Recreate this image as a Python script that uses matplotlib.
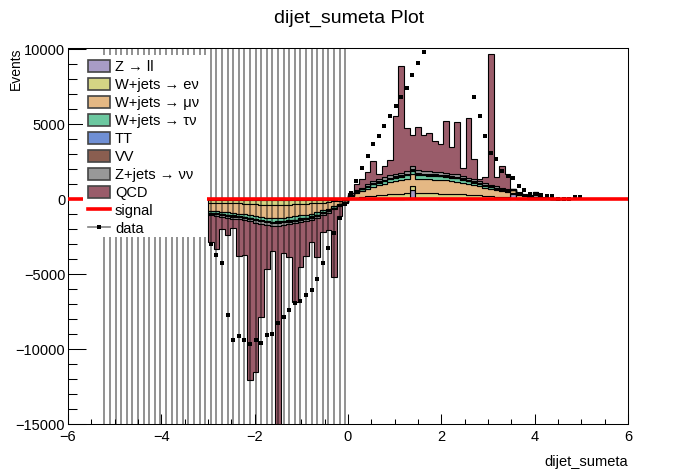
import numpy as np
import matplotlib.pyplot as plt
from matplotlib.patches import Patch, Rectangle
from matplotlib.lines import Line2D
from matplotlib.ticker import MultipleLocator

plt.rcParams['font.family'] = ['Liberation Sans', 'DejaVu Sans']

# 100 bins of 0.12 between -6 and 6
edges = np.linspace(-6, 6, 101)
centers = 0.5 * (edges[:-1] + edges[1:])

# MC histograms cover bins 25..87 (x from -3.0 to 4.56): 25 negative bins then 38 positive bins
mc_first, mc_last = 25, 88

zll = [-30, -30, -30, -40, -40, -40, -40, -40, -50, -50, -50, -50, -50, -50, -50, -50, -50, -40, -40, -40,
       -30, -30, -20, -10, -10,
       10, 20, 20, 30, 40, 40, 40, 50, 50, 50, 60, 600, 60, 60, 60, 60, 50, 50, 50, 50,
       50, 40, 40, 40, 30, 30, 30, 20, 20, 350, 10, 10, 10, 10, 0, 0, 0, 0]
w_enu = [-190, -200, -210, -220, -230, -240, -250, -270, -280, -300, -310, -320, -320, -310, -300, -290, -270, -260, -240, -220,
         -190, -160, -120, -80, -40,
         50, 100, 140, 180, 210, 240, 260, 290, 310, 320, 340, 290, 350, 340, 340, 330, 330, 320, 310, 300,
         280, 260, 240, 220, 190, 170, 150, 140, 120, 70, 80, 60, 40, 30, 20, 15, 10, 5]
w_munu = [-540, -560, -580, -600, -640, -670, -700, -740, -780, -820, -860, -900, -880, -860, -830, -800, -760, -730, -680, -610,
          -520, -440, -340, -230, -100,
          150, 290, 400, 500, 590, 670, 740, 800, 850, 900, 950, 800, 960, 950, 940, 920, 910, 890, 860, 830,
          780, 720, 670, 600, 540, 480, 430, 380, 330, 170, 220, 160, 120, 90, 60, 40, 25, 15]
w_taunu = [-140, -140, -150, -160, -170, -170, -180, -190, -200, -210, -220, -230, -230, -220, -210, -210, -200, -190, -180, -160,
           -140, -110, -90, -60, -30,
           40, 80, 100, 130, 150, 170, 190, 210, 220, 230, 250, 200, 250, 250, 240, 240, 240, 230, 220, 220,
           200, 190, 170, 160, 140, 120, 110, 100, 90, 50, 60, 40, 30, 20, 20, 10, 5, 5]
tt = [-30, -30, -30, -40, -40, -40, -40, -40, -50, -50, -50, -50, -50, -50, -50, -50, -50, -40, -40, -40,
      -30, -30, -20, -10, -5,
      10, 20, 20, 30, 40, 40, 40, 50, 50, 50, 60, 50, 60, 60, 60, 60, 50, 50, 50, 50,
      50, 40, 40, 40, 30, 30, 30, 20, 20, 10, 10, 10, 10, 5, 5, 5, 0, 0]
vv = [-30, -30, -30, -40, -40, -40, -40, -40, -50, -50, -50, -50, -50, -50, -50, -50, -50, -40, -40, -40,
      -30, -30, -20, -10, -5,
      10, 20, 20, 30, 40, 40, 40, 50, 50, 50, 60, 50, 60, 60, 60, 60, 50, 50, 50, 50,
      50, 40, 40, 40, 30, 30, 30, 20, 20, 10, 10, 10, 10, 5, 5, 5, 0, 0]
znunu = [-110, -110, -120, -120, -130, -130, -140, -150, -160, -160, -170, -180, -180, -170, -160, -160, -150, -150, -140, -120,
         -100, -90, -70, -50, -20,
         30, 60, 80, 100, 120, 130, 150, 160, 170, 180, 190, 250, 190, 190, 190, 180, 180, 180, 170, 170,
         160, 140, 130, 120, 110, 100, 90, 80, 70, 40, 40, 30, 20, 300, 10, 10, 10, 5]
qcd = [-1760, -2230, -810, -1140, -600, -2470, -2300, -10600, -9940, -6200, -2940, -1670, -14740, -1900, -2190,
       -5270, -2980, -2330, -1480, -2590, -1160, -1180, -4520, -640, -70,
       120, 400, 580, 820, 1350, 380, 750, 1010, 3860, 7130, 2870, 2030, 2890, 2400, 2550, 2050, 1890, 3450, 1780, 3490,
       540, 3990, 1380, 160, 420, 8750, 620, 1460, 1040, 10, 60, 60, 60, 30, 30, 20, 10, 10]
signal = [0, 0, 0, 0, 0, 0, 0, 0, 0, 0, 0, 0, 0, 0, 0, 0, 0, 0, 0, 0, 0, 0, 0, 0, 0,
          10, 10, 10, 10, 10, 10, 10, 10, 10, 20, 20, 20, 20, 20, 20, 20, 20, 30, 30, 30,
          40, 30, 30, 20, 20, 20, 10, 10, 10, 10, 10, 10, 0, 0, 0, 0, 0, 0]

# data: bins 6..91 (x from -5.22 to 4.98)
data_first, data_last = 6, 92
data = [0, 0, 0, 0, 0, 0, 0, 0, 0, 0, 0, 0, 0, 0, 0, 0, 0, 0, 0,
        -2960, -3690, -4220, -7730, -9360, -9140, -9360, -9690, -9360, -9620, -9070, -9020, -8290, -7890, -7420,
        -6930, -6820, -6410, -6050, -5300, -4270, -3240, -2240, -1220, -340,
        445, 1245, 2110, 2870, 3710, 4240, 4910, 5580, 6240, 6840, 7440, 8310, 9110, 9840, 10400, 11000, 11600,
        12100, 12300, 12000, 11400, 10300, 6840, 5580, 4250, 3090, 2670, 1910, 1560, 1400, 870, 650, 380, 330,
        270, 200, 200, 0, 0, 0, 130, 130]
data_err = [1e5] * 44 + [0] * 42

stack = [
    ("Z → ll", "#a89cc6", zll),
    ("W+jets → eν", "#d4d484", w_enu),
    ("W+jets → μν", "#e4b884", w_munu),
    ("W+jets → τν", "#6cc8a0", w_taunu),
    ("TT", "#6f8fd4", tt),
    ("VV", "#8a5e50", vv),
    ("Z+jets → νν", "#989898", znunu),
    ("QCD", "#9a5c6a", qcd),
]

fig = plt.figure(figsize=(6.98, 4.75), dpi=100)
ax = fig.add_axes([68 / 698, 51 / 475, 560 / 698, 376 / 475])

mc_edges = edges[mc_first:mc_last + 1]
base = np.zeros(len(mc_edges) - 1)
for label, color, vals in stack:
    top = base + np.array(vals, dtype=float)
    ax.stairs(top, mc_edges, baseline=base, fill=True, facecolor=color,
              edgecolor="k", linewidth=0.8, zorder=2)
    base = top

ax.errorbar(centers[data_first:data_last], data, yerr=data_err, fmt="s", ms=2.4, mew=0,
            color="k", ecolor=(0, 0, 0, 0.5), elinewidth=1.2, capsize=0, zorder=3)

sig_full = np.zeros(100)
sig_full[mc_first:mc_last] = signal
ax.stairs(sig_full, edges, baseline=None, color="red", linewidth=2.6, zorder=4)

ax.set_xlim(-6, 6)
ax.set_ylim(-15000, 10100)
ax.xaxis.set_major_locator(MultipleLocator(2))
ax.xaxis.set_minor_locator(MultipleLocator(0.5))
ax.yaxis.set_major_locator(MultipleLocator(5000))
ax.yaxis.set_minor_locator(MultipleLocator(1000))
ax.tick_params(axis="x", which="major", direction="in", length=7.2, width=0.75, labelsize=10.5, pad=4)
ax.tick_params(axis="x", which="minor", direction="in", length=3.8, width=0.75)
ax.tick_params(axis="y", which="major", direction="in", length=13, width=0.75, labelsize=10.5, pad=2)
ax.tick_params(axis="y", which="minor", direction="in", length=6.5, width=0.75)
for sp in ax.spines.values():
    sp.set_linewidth(0.75)

ax.set_xlabel("dijet_sumeta", fontsize=10.5, loc="right")
ax.xaxis.set_label_coords(1.0, -0.082)
ax.set_ylabel("Events", fontsize=10, loc="top")
ax.yaxis.set_label_coords(-0.08, 1.0)
fig.text(0.5, 0.962, "dijet_sumeta Plot", ha="center", va="center", fontsize=14)

# legend sits on a white box that hides the error bars behind it
ax.add_patch(Rectangle((0.027, 0.497), 0.221, 0.484, transform=ax.transAxes,
                       facecolor="white", edgecolor="none", zorder=5))
handles = [Patch(facecolor=c, edgecolor="#444444", linewidth=1.2) for _, c, _ in stack]
handles.append(Line2D([], [], color="red", linewidth=2.6))
handles.append(Line2D([], [], color="gray", linewidth=1.2, marker="s", ms=2.4, mew=0,
                      markerfacecolor="k"))
labels = [lab for lab, _, _ in stack] + ["signal", "data"]
leg = ax.legend(handles, labels, loc="upper left", bbox_to_anchor=(0.0357, 0.969), frameon=False,
                fontsize=10.5, handlelength=1.5, handleheight=0.9, labelspacing=0.27,
                borderpad=0, borderaxespad=0, handletextpad=0.35)
leg.set_zorder(6)

fig.savefig("out.png", dpi=100)
